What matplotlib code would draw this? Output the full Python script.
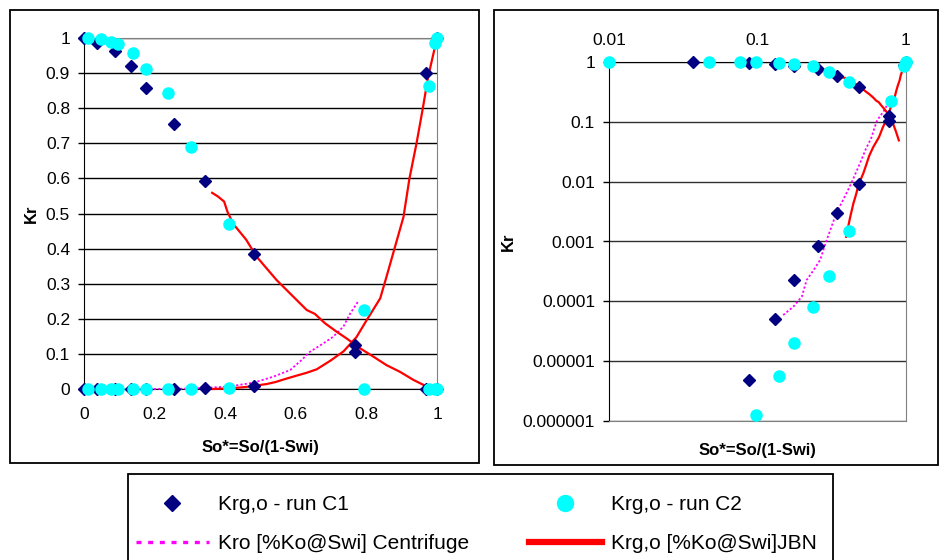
import matplotlib.pyplot as plt
import numpy as np
from matplotlib.lines import Line2D
from matplotlib.patches import Rectangle
from matplotlib.ticker import FixedLocator, FixedFormatter, NullLocator

plt.rcParams['font.family'] = ['Liberation Sans', 'DejaVu Sans']

# run C1: normalised oil saturation, gas (falling) and oil (rising) rel perm
so_c1 = np.array([0.0, 0.037, 0.088, 0.132, 0.177, 0.255, 0.343, 0.482, 0.769, 0.969, 1.0])
krg_c1 = np.array([1.0, 0.987, 0.964, 0.919, 0.857, 0.754, 0.594, 0.385, 0.125, 0.0, 0.0])
kro_c1 = np.array([0.0, 0.0, 4.9e-6, 5.0e-5, 2.26e-4, 8.4e-4, 2.95e-3, 9.1e-3, 0.104, 0.90, 1.0])

# run C2
so_c2 = np.array([0.01, 0.047, 0.076, 0.097, 0.14, 0.175, 0.237, 0.302, 0.411, 0.794, 0.977, 0.994, 1.0])
krg_c2 = np.array([1.0, 0.997, 0.99, 0.982, 0.958, 0.912, 0.844, 0.69, 0.47, 0.0, 0.0, 0.0, 0.0])
kro_c2 = np.array([0.0, 0.0, 0.0, 1.24e-6, 5.6e-6, 2.0e-5, 7.9e-5, 2.64e-4, 1.49e-3, 0.225, 0.864, 0.985, 1.0])

# centrifuge oil curve
so_cent = np.array([0.149, 0.174, 0.199, 0.214, 0.238, 0.264, 0.292, 0.309, 0.34, 0.385, 0.42,
                    0.48, 0.536, 0.584, 0.617, 0.64, 0.678, 0.706, 0.735, 0.754, 0.777])
kro_cent = np.array([5.9e-5, 8.1e-5, 1.2e-4, 2.26e-4, 3.3e-4, 4.9e-4, 1.05e-3, 1.55e-3, 3.0e-3, 5.5e-3, 0.0085,
                     0.018, 0.035, 0.054, 0.083, 0.106, 0.13, 0.149, 0.178, 0.215, 0.25])

# JBN curves
so_jbn_g = np.array([0.363, 0.380, 0.397, 0.406, 0.423, 0.459, 0.489, 0.517, 0.546, 0.569, 0.598, 0.631,
                     0.654, 0.683, 0.716, 0.744, 0.782, 0.82, 0.857, 0.895, 0.933, 0.971, 0.99])
krg_jbn = np.array([0.559, 0.548, 0.534, 0.506, 0.47, 0.426, 0.377, 0.344, 0.31, 0.287, 0.258, 0.225,
                    0.214, 0.187, 0.163, 0.144, 0.116, 0.092, 0.068, 0.049, 0.026, 0.007, 0.0])
so_jbn_o = np.array([0.366, 0.395, 0.42, 0.442, 0.46, 0.48, 0.517, 0.543, 0.565, 0.602, 0.63, 0.659, 0.697,
                     0.735, 0.772, 0.80, 0.839, 0.857, 0.881, 0.905, 0.922, 0.942, 0.959, 0.975, 0.99, 1.0])
kro_jbn = np.array([0.0, 0.0012, 0.0025, 0.0043, 0.006, 0.009, 0.014, 0.02, 0.027, 0.038, 0.046, 0.056, 0.08,
                    0.107, 0.148, 0.195, 0.258, 0.32, 0.405, 0.49, 0.6, 0.70, 0.795, 0.89, 0.956, 1.0])

lin_ticks = np.round(np.arange(0, 1.01, 0.1), 1)
lin_tick_labels = ['0', '0.1', '0.2', '0.3', '0.4', '0.5', '0.6', '0.7', '0.8', '0.9', '1']
x_lin_ticks = [0, 0.2, 0.4, 0.6, 0.8, 1.0]
x_lin_labels = ['0', '0.2', '0.4', '0.6', '0.8', '1']
log_y_ticks = [1e-6, 1e-5, 1e-4, 1e-3, 1e-2, 1e-1, 1]
log_y_labels = ['0.000001', '0.00001', '0.0001', '0.001', '0.01', '0.1', '1']
log_x_ticks = [0.01, 0.1, 1]
log_x_labels = ['0.01', '0.1', '1']

NAVY = '#000080'
CYAN = '#00FFFF'
PINK = '#FF00FF'
RED = '#FF0000'

W, H = 940, 560
fig = plt.figure(figsize=(W / 100, H / 100), dpi=100)


def fig_rect(x0, y0, x1, y1):
    # pixel box (top-left origin) -> figure fraction
    return [x0 / W, 1 - y1 / H, (x1 - x0) / W, (y1 - y0) / H]


# outer frames of both charts and the legend
for box in [(10, 10, 479, 463), (494, 10, 938, 465), (128, 474, 833, 575)]:
    l, b, w, h = fig_rect(*box)
    fig.add_artist(Rectangle((l, b), w, h, transform=fig.transFigure,
                             fill=False, edgecolor='black', lw=1.3))


def draw_series(ax, log=False):
    gas_mask = krg_jbn > 0.03 if log else np.ones(len(krg_jbn), bool)
    ax.plot(so_cent, kro_cent, color=PINK, lw=1.3, ls=(0, (1.2, 1.2)), clip_on=False, zorder=3)
    ax.plot(so_jbn_g[gas_mask], krg_jbn[gas_mask], color=RED, lw=1.6, clip_on=False, zorder=3)
    ax.plot(so_jbn_o, kro_jbn, color=RED, lw=1.6, clip_on=False, zorder=3)
    for y in (krg_c1, kro_c1):
        ax.plot(so_c1, y, 'D', color=NAVY, ms=6, mec=NAVY, ls='none', clip_on=False, zorder=4)
    for y in (krg_c2, kro_c2):
        ax.plot(so_c2, y, 'o', color=CYAN, ms=8, mec=CYAN, ls='none', clip_on=False, zorder=5)


# linear panel
ax1 = fig.add_axes(fig_rect(84, 38, 437, 389))
draw_series(ax1)
ax1.set_xlim(0, 1)
ax1.set_ylim(0, 1)
ax1.yaxis.set_major_locator(FixedLocator(lin_ticks))
ax1.yaxis.set_major_formatter(FixedFormatter(lin_tick_labels))
ax1.xaxis.set_major_locator(FixedLocator(x_lin_ticks))
ax1.xaxis.set_major_formatter(FixedFormatter(x_lin_labels))
ax1.yaxis.grid(True, color='black', lw=1.0)
ax1.set_axisbelow(True)
ax1.spines['top'].set_color('#808080')
ax1.spines['right'].set_color('#808080')
ax1.tick_params(axis='both', labelsize=12.5, length=4, width=1, direction='out', pad=6)
ax1.tick_params(axis='x', pad=13, length=0)
ax1.set_ylabel('Kr', fontsize=12, fontweight='bold', labelpad=5)
ax1.set_xlabel('So*=So/(1-Swi)', fontsize=12, fontweight='bold', labelpad=13)

# log-log panel
ax2 = fig.add_axes(fig_rect(609, 62, 906, 421))
ax2.set_xscale('log', nonpositive='mask')
ax2.set_yscale('log', nonpositive='mask')
draw_series(ax2, log=True)
ax2.set_xlim(0.01, 1)
ax2.set_ylim(1e-6, 1)
ax2.xaxis.set_major_locator(FixedLocator(log_x_ticks))
ax2.xaxis.set_major_formatter(FixedFormatter(log_x_labels))
ax2.yaxis.set_major_locator(FixedLocator(log_y_ticks))
ax2.yaxis.set_major_formatter(FixedFormatter(log_y_labels))
ax2.xaxis.set_minor_locator(NullLocator())
ax2.yaxis.set_minor_locator(NullLocator())
ax2.xaxis.tick_top()
ax2.xaxis.set_label_position('bottom')
ax2.yaxis.grid(True, color='#303030', lw=1.0)
ax2.set_axisbelow(True)
ax2.spines['bottom'].set_color('#808080')
ax2.spines['right'].set_color('#808080')
ax2.tick_params(axis='both', labelsize=12.5, length=4, width=1, direction='out', pad=6)
ax2.tick_params(axis='x', pad=10, length=0)
ax2.set_ylabel('Kr', fontsize=12, fontweight='bold', labelpad=5)
ax2.set_xlabel('So*=So/(1-Swi)', fontsize=12, fontweight='bold', labelpad=16)

# legend
handles = [
    Line2D([], [], marker='D', color=NAVY, ms=8.5, ls='none'),
    Line2D([], [], color=PINK, lw=2.4, ls=(0, (1.5, 2))),
    Line2D([], [], marker='o', color=CYAN, ms=11.5, ls='none'),
    Line2D([], [], color=RED, lw=4.5),
]
labels = ['Krg,o - run C1', 'Kro [%Ko@Swi] Centrifuge',
          'Krg,o - run C2', 'Krg,o [%Ko@Swi]JBN']
fig.legend(handles, labels, ncol=2, loc='upper left', bbox_to_anchor=(136 / W, 1 - 495 / H),
           frameon=False, fontsize=15, borderpad=0, handlelength=3.5, handletextpad=0.45,
           columnspacing=2.85, labelspacing=0.95, borderaxespad=0)

fig.savefig('out.png', dpi=100)
